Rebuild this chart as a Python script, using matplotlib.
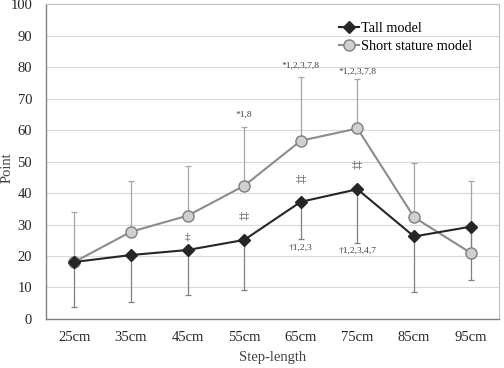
import numpy as np
import matplotlib
matplotlib.use('Agg')
import matplotlib.pyplot as plt
from matplotlib import rcParams

rcParams['font.family'] = ['Liberation Serif', 'DejaVu Serif']
rcParams['font.size'] = 10

steps = ['25cm', '35cm', '45cm', '55cm', '65cm', '75cm', '85cm', '95cm']
tall_mean = [18.1, 20.3, 21.9, 25.1, 37.2, 41.2, 26.2, 29.3]
tall_sd = [14.4, 14.8, 14.4, 15.9, 11.9, 17.0, 17.5, 16.9]
short_mean = [18.1, 27.7, 32.8, 42.3, 56.6, 60.5, 32.3, 21.0]
short_sd = [15.8, 16.1, 15.8, 18.7, 20.1, 15.6, 17.1, 22.9]

# significance labels: (category index, y value, text)
star_labels = [(3, 64.8, '*1,8'), (4, 80.3, '*1,2,3,7,8'), (5, 78.4, '*1,2,3,7,8')]
ddag_labels = [(2, 26.0, '‡'), (3, 32.7, '‡‡'), (4, 44.4, '‡‡'), (5, 48.9, '‡‡')]
dag_labels = [(4, 22.5, '†1,2,3'), (5, 21.6, '†1,2,3,4,7')]

x = np.arange(len(steps))

fig = plt.figure(figsize=(5.04, 3.68), dpi=100)
ax = fig.add_axes([0.0913, 0.1332, 0.8987, 0.8558])

ax.errorbar(x, short_mean, yerr=[np.zeros(len(x)), short_sd], fmt='none',
            ecolor='#a6a6a6', elinewidth=0.9, capsize=2.5, capthick=0.9, zorder=2)
ax.errorbar(x, tall_mean, yerr=[tall_sd, np.zeros(len(x))], fmt='none',
            ecolor='#7f7f7f', elinewidth=0.9, capsize=2.5, capthick=0.9, zorder=2)

ax.plot(x, tall_mean, color='#262626', linewidth=1.5, marker='D', markersize=6,
        markerfacecolor='#262626', markeredgecolor='#262626', label='Tall model', zorder=4)
ax.plot(x, short_mean, color='#8c8c8c', linewidth=1.5, marker='o', markersize=8,
        markerfacecolor='#d0d0d0', markeredgecolor='#7f7f7f', label='Short stature model', zorder=3)

for i, y, t in star_labels + dag_labels:
    ax.text(x[i], y, t, ha='center', va='center', fontsize=6.8, color='#404040')
for i, y, t in ddag_labels:
    ax.text(x[i], y, t, ha='center', va='center', fontsize=8, color='#404040')

ax.set_xlim(-0.5, len(steps) - 0.5)
ax.set_ylim(0, 100)
ax.set_yticks(np.arange(0, 101, 10))
ax.set_xticks(x)
ax.set_xticklabels(steps)
ax.yaxis.grid(True, color='#d9d9d9', linewidth=0.8)
ax.set_axisbelow(True)
ax.tick_params(length=0, labelsize=10.5, colors='#262626')
ax.tick_params(axis='x', pad=9)
ax.tick_params(axis='y', pad=10)

for side in ['top', 'right']:
    ax.spines[side].set_color('#bfbfbf')
    ax.spines[side].set_linewidth(0.8)
for side in ['left', 'bottom']:
    ax.spines[side].set_color('#808080')
    ax.spines[side].set_linewidth(1.0)

ax.set_xlabel('Step-length', fontsize=10.5, color='#404040', labelpad=5)
ax.set_ylabel('Point', fontsize=10.5, color='#404040')
ax.yaxis.set_label_coords(-0.072, 0.48)

ax.legend(loc='upper right', bbox_to_anchor=(0.962, 0.975), frameon=False,
          fontsize=10.3, handlelength=1.4, handletextpad=0.1, labelspacing=0.35,
          borderaxespad=0.3)

plt.savefig('out.png', dpi=100)
